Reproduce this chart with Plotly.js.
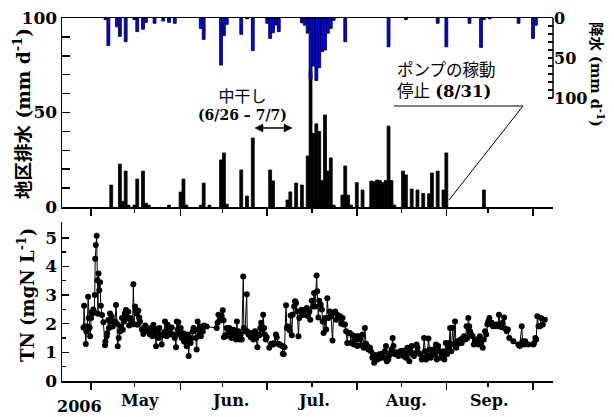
<!DOCTYPE html>
<html>
<head>
<meta charset="utf-8">
<script src="https://cdn.plot.ly/plotly-3.0.1.min.js"></script>
<style>html,body{margin:0;padding:0;background:#fff;}#chart{width:614px;height:417px;}</style>
</head>
<body>
<div id="chart"></div>
<script>
// ---- data ----
const drainDate = ['2006-05-08','2006-05-11','2006-05-12','2006-05-13','2006-05-14','2006-05-16','2006-05-17','2006-05-19','2006-05-20','2006-05-21','2006-05-28','2006-06-01','2006-06-02','2006-06-03','2006-06-08','2006-06-09','2006-06-11','2006-06-15','2006-06-16','2006-06-17','2006-06-22','2006-06-24','2006-06-26','2006-07-02','2006-07-03','2006-07-08','2006-07-09','2006-07-11','2006-07-13','2006-07-15','2006-07-16','2006-07-17','2006-07-18','2006-07-19','2006-07-20','2006-07-21','2006-07-22','2006-07-23','2006-07-24','2006-07-27','2006-07-28','2006-07-29','2006-07-30','2006-08-01','2006-08-03','2006-08-06','2006-08-07','2006-08-08','2006-08-09','2006-08-10','2006-08-11','2006-08-12','2006-08-13','2006-08-14','2006-08-17','2006-08-18','2006-08-20','2006-08-22','2006-08-24','2006-08-26','2006-08-27','2006-08-29','2006-08-31','2006-09-01','2006-09-14'];
const drainVal = [11.6,22.7,3,19,1,1,14.8,19,2,1,1,7.9,14.8,1,1,12.7,1,24.9,28.6,1.5,19.6,5.8,36.5,19.6,13.8,3.7,8,12.7,11.6,27,72,39,44,40,14,48.7,19,26,1,6.3,21.7,6.3,1,12.9,9,13.7,13.4,14.3,14,12.9,14,42.8,14,1,19,17,9.5,9,7.2,7,18,19,9,28.6,9];

const precipDate = ['2006-05-06','2006-05-07','2006-05-10','2006-05-11','2006-05-13','2006-05-16','2006-05-17','2006-05-19','2006-05-20','2006-05-23','2006-05-26','2006-05-28','2006-05-30','2006-06-08','2006-06-09','2006-06-15','2006-06-16','2006-06-17','2006-06-22','2006-06-24','2006-06-26','2006-07-01','2006-07-02','2006-07-03','2006-07-04','2006-07-05','2006-07-13','2006-07-14','2006-07-15','2006-07-16','2006-07-17','2006-07-18','2006-07-19','2006-07-20','2006-07-21','2006-07-22','2006-07-23','2006-07-24','2006-07-28','2006-08-12','2006-08-18','2006-08-29','2006-09-01','2006-09-09','2006-09-13','2006-09-14','2006-09-16','2006-09-26','2006-10-01','2006-10-02'];
const precipVal = [2,34.6,11,23,29.6,2,17,14,5.5,6.6,3.8,5.5,6.6,13,26.7,58.8,22,8,20.4,1,40.8,6.6,25.5,18.3,8.8,17,6,9,19,76,60,78,62,42,40,19,13,3,29.6,36,2,6.6,36,6.6,36.7,2,1,6.6,25.5,9];

// TN: days after 2006-05-01 and concentration (mgN/L)
const tnDay = [-2.6,-2.4,-2.1,-1.8,-1.6,-1.3,-1.0,-0.8,-0.5,-0.3,0.0,0.2,0.5,0.8,1.1,1.3,1.45,1.65,1.95,2.2,2.4,2.6,2.85,3.1,3.4,3.8,4.27,4.85,5.0,5.42,5.6,6.0,6.2,6.58,6.8,7.15,7.5,7.73,8.3,8.65,9.0,9.23,9.6,10.04,10.3,10.73,11.0,11.42,11.7,12.11,12.4,12.92,13.2,13.5,14.08,14.4,14.65,14.9,15.23,15.5,15.81,16.1,16.38,16.7,16.96,17.6,18.11,18.5,18.81,19.2,19.5,19.9,20.42,20.7,21.0,21.3,21.58,21.9,22.2,22.5,22.8,23.08,23.4,23.65,24.0,24.46,24.9,25.3,25.61,25.9,26.19,26.5,27.0,27.3,27.6,27.92,28.3,28.61,29.0,29.42,29.7,30.0,30.23,30.6,31.04,31.4,31.96,32.2,32.54,32.8,33.11,33.5,33.81,34.1,34.5,34.8,35.19,35.5,36.0,36.3,36.58,36.9,37.27,37.5,37.73,38.0,38.31,38.7,39.11,40.04,43.5,43.8,44.1,44.42,44.7,45.23,45.6,45.9,46.04,46.4,46.73,47.0,47.5,47.9,48.3,48.6,49.0,49.3,49.7,50.2,50.5,50.8,51.0,51.4,51.8,52.2,52.7,52.9,53.3,53.9,54.1,54.5,54.8,55.3,55.6,55.9,56.2,56.8,57.1,57.6,57.9,58.3,58.6,58.9,59.2,59.6,59.9,60.2,60.5,60.8,61.7,62.5,63.1,63.4,64.0,64.3,64.8,65.2,65.7,66.1,66.4,66.7,67.0,67.5,67.8,68.1,68.4,68.8,69.1,69.5,69.8,70.3,70.6,71.0,71.4,71.8,72.1,72.5,72.9,73.3,73.7,74.2,74.7,75.1,75.6,75.9,76.4,76.8,77.2,77.6,78.1,78.3,78.7,79.0,79.5,79.9,80.2,80.5,81.0,81.4,81.8,82.2,82.7,83.1,83.6,84.0,84.5,84.9,85.3,85.7,86.2,86.6,87.1,87.5,87.9,88.3,88.7,89.0,89.6,90.0,90.6,91.0,91.4,91.8,92.2,92.6,93.1,93.5,94.0,94.4,94.8,95.2,95.6,96.0,96.6,96.9,97.4,97.7,98.0,98.4,98.9,99.2,99.8,100.2,100.6,101.0,101.4,101.7,102.1,102.4,102.9,103.3,103.7,104.0,104.4,104.7,105.2,105.6,106.0,106.4,107.0,107.4,107.9,108.2,108.7,109.0,109.5,109.8,110.2,110.6,111.0,111.4,111.8,112.2,112.7,113.0,113.5,113.9,114.5,114.9,115.3,115.6,116.0,116.4,116.8,117.2,117.6,118.0,118.5,118.9,119.4,119.7,120.2,120.6,121.0,121.4,121.9,122.3,122.8,123.2,123.7,124.0,124.3,124.7,125.2,125.6,126.0,126.4,126.8,127.1,127.5,127.9,128.3,128.7,129.1,129.6,130.0,130.3,130.6,130.9,131.2,131.6,132.1,132.5,132.9,133.3,133.7,134.1,134.6,135.0,135.6,136.0,136.4,136.8,137.2,137.5,137.9,138.3,138.7,139.1,139.5,140.0,140.4,140.8,141.2,141.6,142.1,142.5,143.0,143.4,143.9,144.3,144.8,146.2,147.9,148.4,149.1,149.4,149.9,150.3,151.4,153.1,153.4,153.8,154.1,154.5,154.9,155.4,155.8,156.4,157.1];
const tnVal = [1.87,2.63,1.9,1.29,1.73,1.9,2.94,2.2,1.87,1.56,2.2,2.4,2.36,2.5,2.4,3.0,4.27,4.75,5.07,3.52,2.35,3.75,3.17,3.45,2.63,2.3,2.05,1.25,1.38,1.56,1.67,2.13,1.85,2.36,2.08,2.25,1.9,2.05,2.08,2.65,2.0,1.21,1.5,1.73,1.9,2.2,1.79,2.08,2.36,2.48,2.17,2.42,1.94,2.2,2.08,1.98,3.38,1.98,2.6,2.5,2.36,1.96,2.45,2.22,2.08,1.8,1.64,1.85,1.94,1.73,1.85,1.73,1.62,1.8,1.85,1.56,1.96,1.67,1.8,1.21,1.8,1.73,1.5,1.85,1.6,1.27,1.6,1.7,2.08,1.73,1.56,1.96,1.82,1.67,1.62,1.87,1.62,1.62,1.5,1.18,2.08,1.8,2.05,1.62,1.85,1.5,1.67,1.38,1.38,1.5,1.21,1.62,0.87,1.4,1.33,1.5,1.73,1.85,1.79,1.5,1.1,2.08,1.79,1.62,1.9,1.56,1.85,1.73,1.94,1.9,1.85,2.03,2.31,2.1,2.14,2.28,2.47,2.12,1.53,1.6,1.56,1.85,1.76,1.85,1.68,1.5,1.62,1.79,1.62,1.45,2.08,1.6,1.74,1.45,1.62,1.45,3.65,1.85,1.74,3.03,1.74,1.62,1.68,1.53,1.68,1.62,1.45,1.74,1.5,1.18,1.62,1.6,1.85,2.03,1.79,2.31,1.85,1.62,1.45,1.53,1.16,1.3,1.27,1.33,1.62,1.53,1.3,1.27,1.25,1.22,0.95,0.93,1.18,2.64,1.85,1.9,1.85,1.76,2.29,1.6,2.31,2.6,2.78,2.72,2.43,1.56,2.2,2.43,2.49,2.31,2.31,2.49,2.55,2.26,2.43,2.14,2.8,2.6,3.07,2.6,3.68,3.13,2.22,2.8,2.66,2.5,2.08,1.68,2.2,1.8,2.89,2.2,2.43,2.25,1.41,2.37,2.43,2.14,2.31,2.2,2.26,2.0,2.2,1.97,1.97,1.74,1.33,1.68,1.68,1.33,1.6,1.27,1.45,1.56,1.22,1.56,1.45,1.25,1.62,1.16,1.85,1.3,1.22,1.1,1.16,1.04,0.81,0.93,0.64,0.81,0.9,0.75,0.93,0.8,0.95,0.87,0.81,1.04,1.22,0.69,0.75,0.9,0.98,1.1,1.5,1.22,0.93,1.0,0.93,0.87,1.04,0.93,1.06,0.87,0.93,0.81,1.16,0.98,0.69,1.04,1.22,0.93,0.87,0.98,1.27,1.16,0.98,0.93,0.75,0.81,1.5,1.04,0.75,0.9,1.48,1.1,0.81,0.98,1.1,0.93,1.27,0.75,1.22,1.04,0.81,0.93,1.04,0.75,1.33,0.93,1.16,1.33,1.85,1.04,1.85,1.27,2.08,1.16,1.39,1.3,1.33,1.45,1.33,1.5,1.56,1.45,1.91,1.5,2.2,1.91,1.74,1.62,1.56,1.27,1.39,1.33,1.45,1.27,1.56,1.33,1.16,1.45,1.74,1.62,1.97,2.08,2.2,2.03,2.03,1.91,1.97,1.91,1.97,1.91,2.31,1.97,1.88,2.03,2.22,1.83,1.74,1.8,1.5,1.39,1.27,1.22,1.91,1.39,1.27,1.39,1.27,1.27,1.33,1.5,1.45,2.26,1.91,1.91,2.2,1.97,2.14];

const monthStarts = ['2006-05-01','2006-06-01','2006-07-01','2006-08-01','2006-09-01','2006-10-01'];
const monthMids = ['2006-05-16','2006-06-15 12:00','2006-07-16 12:00','2006-08-16 12:00','2006-09-15 12:00'];
const monthLabels = ['May','Jun.','Jul.','Aug.','Sep.'];
const monthLabelDates = ['2006-05-18','2006-06-18','2006-07-17','2006-08-18','2006-09-16'];
const yearLabel = '2006';
const yearLabelDate = '2006-04-27';

// ---- helpers ----
const base = Date.UTC(2006, 4, 1);
function dayToDate(d) {
  return new Date(base + d * 86400000).toISOString().slice(0, 19).replace('T', ' ');
}
const tnDate = tnDay.map(dayToDate);
const xRange = ['2006-04-20 23:00', '2006-10-07 22:00'];
const SERIF = 'DejaVu Serif';
const CJK = 'Noto Sans CJK JP';
const bold = (size) => ({family: SERIF, size: size, color: '#000', weight: 'bold'});

const traces = [
  {type: 'bar', x: drainDate, y: drainVal, xaxis: 'x', yaxis: 'y', width: 86400000,
   marker: {color: '#000', line: {color: '#000', width: 0.8}}, hoverinfo: 'skip'},
  {type: 'bar', x: precipDate, y: precipVal, xaxis: 'x', yaxis: 'y3', width: 86400000,
   marker: {color: '#0000ff', line: {color: '#000', width: 0.8}}, hoverinfo: 'skip'},
  {type: 'scatter', mode: 'lines+markers', x: tnDate, y: tnVal, xaxis: 'x2', yaxis: 'y2',
   line: {color: '#000', width: 1}, marker: {color: '#000', size: 6}, hoverinfo: 'skip'}
];

const labelTicks = [0, 50, 100];
const tenMinor = [10,20,30,40,60,70,80,90];
const fiveMinor = [5,15,25,35,45,55,65,75,85,95];

const xCommon = {
  type: 'date', range: xRange, showgrid: false, zeroline: false,
  showline: true, linecolor: '#000', linewidth: 1.5,
  ticks: 'outside', tickmode: 'array', tickvals: monthStarts,
  ticklen: 7, tickwidth: 1.5, tickcolor: '#000', showticklabels: false,
  minor: {tickmode: 'array', tickvals: monthMids, ticks: 'outside', ticklen: 4, tickwidth: 1.5, tickcolor: '#000'}
};

const layout = {
  width: 614, height: 417,
  margin: {l: 62, r: 61, t: 18, b: 36, pad: 0},
  paper_bgcolor: '#fff', plot_bgcolor: 'rgba(0,0,0,0)',
  showlegend: false, barmode: 'overlay',
  font: {family: SERIF, color: '#000'},
  xaxis: Object.assign({}, xCommon, {domain: [0, 1], anchor: 'y', mirror: true}),
  xaxis2: Object.assign({}, xCommon, {domain: [0, 1], anchor: 'y2', matches: 'x'}),
  yaxis: {
    domain: [0.4793, 1], range: [0, 100], anchor: 'x', showgrid: false, zeroline: false,
    showline: true, linecolor: '#000', linewidth: 1.5,
    ticks: 'inside', tickmode: 'array', tickvals: labelTicks,
    ticklen: 8, tickwidth: 1.5, tickcolor: '#000', tickfont: bold(17),
    minor: {tickmode: 'array', tickvals: tenMinor, ticks: 'inside', ticklen: 8, tickwidth: 1.5, tickcolor: '#000'}
  },
  yaxis4: {
    overlaying: 'y', side: 'left', anchor: 'x', range: [0, 100], showgrid: false, zeroline: false,
    showline: false, showticklabels: false, ticks: 'inside', tickmode: 'array', tickvals: fiveMinor,
    ticklen: 4, tickwidth: 1.2, tickcolor: '#000'
  },
  yaxis3: {
    overlaying: 'y', side: 'right', anchor: 'x', range: [236, 0], showgrid: false, zeroline: false,
    showline: false, ticks: 'inside', tickmode: 'array', tickvals: labelTicks,
    ticklen: 5, tickwidth: 1.2, tickcolor: '#000', tickfont: bold(16),
    minor: {tickmode: 'array', tickvals: tenMinor, ticks: 'inside', ticklen: 5, tickwidth: 1.2, tickcolor: '#000'}
  },
  yaxis2: {
    domain: [0, 0.438], range: [0, 5.55], anchor: 'x2', showgrid: false, zeroline: false,
    showline: true, linecolor: '#000', linewidth: 1.5,
    ticks: 'inside', tickmode: 'array', tickvals: [0,1,2,3,4,5],
    ticklen: 7, tickwidth: 1.5, tickcolor: '#000', tickfont: bold(17),
    minor: {tickmode: 'array', tickvals: [0.5,1.5,2.5,3.5,4.5], ticks: 'inside', ticklen: 4, tickwidth: 1.2, tickcolor: '#000'}
  },
  shapes: [
    // right (precipitation) axis line, only 0-100
    {type: 'line', xref: 'paper', yref: 'y3', x0: 1, x1: 1, y0: 0, y1: 100, line: {color: '#000', width: 1.5}},
    // pump note leader
    {type: 'line', xref: 'paper', yref: 'paper', x0: 0.6762, x1: 0.9389, y0: 0.7576, y1: 0.7576, line: {color: '#000', width: 1}},
    {type: 'line', xref: 'paper', yref: 'paper', x0: 0.9389, x1: 0.7882, y0: 0.7576, y1: 0.4986, line: {color: '#000', width: 1}},
    // double arrow for 中干し period
    {type: 'line', xref: 'paper', yref: 'paper', x0: 0.4033, x1: 0.4582, y0: 0.6970, y1: 0.6970, line: {color: '#000', width: 1.5}},
    {type: 'path', xref: 'paper', yref: 'paper', path: 'M 0.3931 0.6970 L 0.4093 0.7080 L 0.4093 0.6860 Z', fillcolor: '#000', line: {color: '#000', width: 0.5}},
    {type: 'path', xref: 'paper', yref: 'paper', path: 'M 0.4684 0.6970 L 0.4522 0.7080 L 0.4522 0.6860 Z', fillcolor: '#000', line: {color: '#000', width: 0.5}}
  ],
  annotations: []
};

const ann = layout.annotations;
monthLabels.forEach((t, i) => ann.push({xref: 'x2', yref: 'paper', x: monthLabelDates[i], y: 0, yshift: -19,
  xanchor: 'center', yanchor: 'middle', text: t, showarrow: false, font: bold(16)}));
ann.push({xref: 'x2', yref: 'paper', x: yearLabelDate, y: 0, yshift: -25, xanchor: 'center', yanchor: 'middle',
  text: yearLabel, showarrow: false, font: bold(16)});

// axis titles
ann.push({xref: 'paper', yref: 'paper', x: -0.0815, y: 0.7383, xanchor: 'center', yanchor: 'middle', textangle: -90,
  showarrow: false, text: '地区排水 (mm d<sup>-1</sup>)', font: {family: SERIF + ', ' + CJK, size: 18.5, color: '#000', weight: 'bold'}});
ann.push({xref: 'paper', yref: 'paper', x: -0.0733, y: 0.2369, xanchor: 'center', yanchor: 'middle', textangle: -90,
  showarrow: false, text: 'TN (mgN L<sup>-1</sup>)', font: bold(18)});
ann.push({xref: 'paper', yref: 'paper', x: 1.0896, y: 0.843, xanchor: 'center', yanchor: 'middle', textangle: 90,
  showarrow: false, text: '降水 (mm d<sup>-1</sup>)', font: {family: SERIF + ', ' + CJK, size: 14.5, color: '#000', weight: 'bold'}});

// notes
ann.push({xref: 'paper', yref: 'paper', x: 0.3680, y: 0.7615, xanchor: 'center', yanchor: 'middle', align: 'center',
  showarrow: false, text: '<span style="font-size:16px">中干し</span><br><b>(6/26 – 7/7)</b>',
  font: {family: SERIF + ', ' + CJK, size: 14, color: '#000'}});
ann.push({xref: 'paper', yref: 'paper', x: 0.6782, y: 0.8264, xanchor: 'left', yanchor: 'middle', align: 'left',
  showarrow: false, text: 'ポンプの稼動<br>停止 <b>(8/31)</b>',
  font: {family: SERIF + ', ' + CJK, size: 16.5, color: '#000'}});

Plotly.newPlot('chart', traces, layout, {staticPlot: true, displayModeBar: false});
</script>
</body>
</html>
